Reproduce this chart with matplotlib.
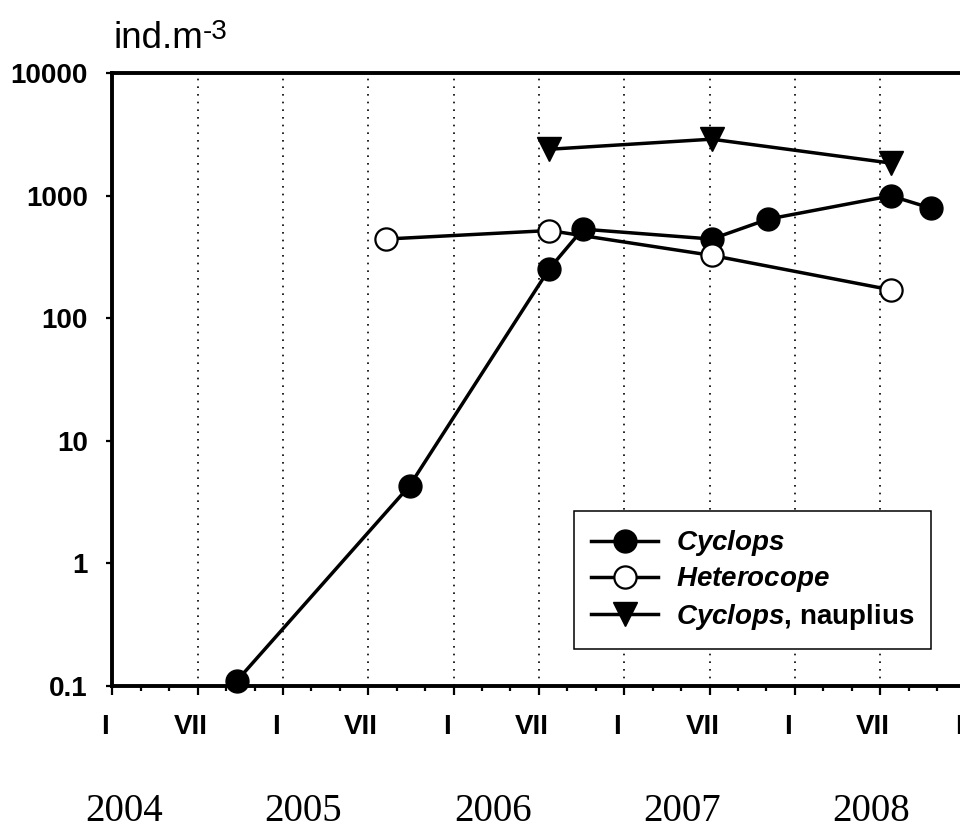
import matplotlib
matplotlib.use('Agg')
import matplotlib.pyplot as plt
import matplotlib.ticker as ticker
import matplotlib.transforms as mtransforms

# sampling dates as months since January 2004, abundances in ind.m-3
cyclops_t = [8.75, 20.9, 30.73, 33.08, 42.15, 46.13, 54.74, 57.55]
cyclops_n = [0.11, 4.3, 254, 535, 444, 646, 1000, 794]
hetero_t = [19.23, 30.73, 42.19, 54.74]
hetero_n = [444, 521, 326, 171]
naup_t = [30.73, 42.15, 54.76]
naup_n = [2400, 2900, 1850]

month_ticks = list(range(0, 61, 6))
month_labels = ['I', 'VII'] * 5 + ['I']
y_ticks = [0.1, 1, 10, 100, 1000, 10000]
y_labels = ['0.1', '1', '10', '100', '1000', '10000']
years = ['2004', '2005', '2006', '2007', '2008']
year_px = [124, 303, 493, 682, 871]  # label centres (pixels)

plt.rcParams['font.family'] = ['Liberation Sans', 'DejaVu Sans']
plt.rcParams['mathtext.fontset'] = 'custom'
plt.rcParams['mathtext.rm'] = 'Liberation Sans'
plt.rcParams['mathtext.it'] = 'Liberation Sans:italic'
plt.rcParams['mathtext.bf'] = 'Liberation Sans:bold'
plt.rcParams['mathtext.bfit'] = 'Liberation Sans:italic:bold'

W, H = 960, 831
fig = plt.figure(figsize=(W / 100, H / 100), dpi=100)
ax = fig.add_axes([112.3 / W, 1 - 686 / H, 867.5 / W, (686 - 73.3) / H])
ax.set_yscale('log')
ax.set_ylim(0.1, 10000)
ax.set_xlim(0, 61)

ax.plot(cyclops_t, cyclops_n, '-o', color='k', lw=2.5, ms=16.5,
        mfc='k', mec='k', clip_on=False, zorder=3,
        label=r'$\mathbfit{Cyclops}$')
ax.plot(hetero_t, hetero_n, '-o', color='k', lw=2.5, ms=16,
        mfc='white', mec='k', mew=1.6, clip_on=False, zorder=4,
        label=r'$\mathbfit{Heterocope}$')
ax.plot(naup_t, naup_n, '-v', color='k', lw=2.5, ms=17,
        mfc='k', mec='k', clip_on=False, zorder=3,
        label=r'$\mathbfit{Cyclops}$, nauplius')

for s in ['left', 'bottom', 'top']:
    ax.spines[s].set_linewidth(2.8)
ax.spines['right'].set_visible(False)

ax.set_xticks(month_ticks)
ax.set_xticklabels(month_labels, fontsize=20, fontweight='bold')
ax.xaxis.set_minor_locator(ticker.MultipleLocator(2))
ax.set_yticks(y_ticks)
ax.set_yticklabels(y_labels, fontsize=20, fontweight='bold')
ax.yaxis.set_minor_locator(ticker.NullLocator())
ax.tick_params(axis='x', which='major', direction='out', length=6.5, width=1.6, pad=14)
ax.tick_params(axis='x', which='minor', direction='out', length=3.5, width=1.6)
ax.tick_params(axis='y', which='major', direction='out', length=4.5, width=1.6, pad=13)

# month labels sit a little left of their ticks in the original
shift = mtransforms.ScaledTranslation(-7 / 100, 0, fig.dpi_scale_trans)
for lab in ax.get_xticklabels():
    lab.set_transform(lab.get_transform() + shift)

ax.grid(axis='x', which='major', color='k', lw=1.2, linestyle=(0, (1, 3.6)))

leg = ax.legend(loc='upper left', bbox_to_anchor=(574 / W, 1 - 511 / H),
                bbox_transform=fig.transFigure, borderaxespad=0,
                fancybox=False, edgecolor='k', framealpha=1,
                prop={'weight': 'bold', 'size': 20}, handlelength=2.4,
                handletextpad=0.65, labelspacing=0.26, borderpad=0.62)
leg.get_frame().set_linewidth(1.1)

fig.text(113 / W, 1 - 48.3 / H, 'ind.m', fontsize=26.5, va='baseline', ha='left')
fig.text(203 / W, 1 - 39 / H, '-3', fontsize=20, va='baseline', ha='left')

for yr, px in zip(years, year_px):
    fig.text(px / W, 1 - 821 / H, yr, fontsize=28, family='Liberation Serif',
             ha='center', va='baseline')

fig.savefig('out.png', dpi=100)
